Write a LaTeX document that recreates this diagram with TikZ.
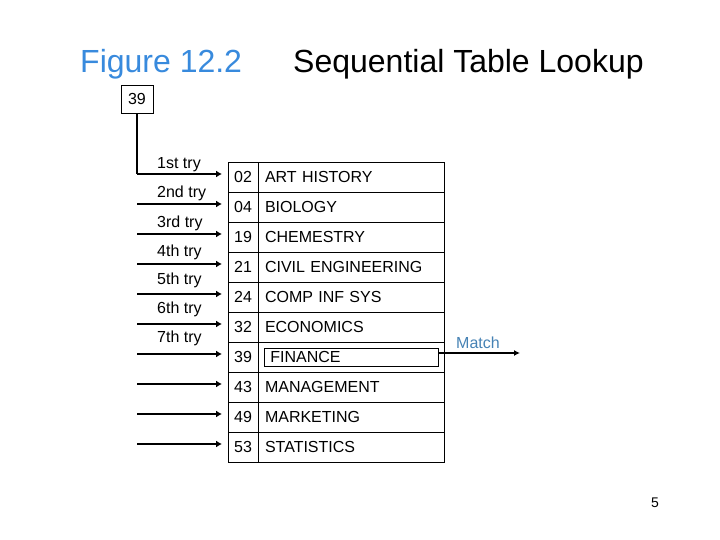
\documentclass[tikz,border=0pt]{standalone}
\usepackage{fontspec}
\setmainfont{Liberation Sans}
\usepackage{xcolor}
\usetikzlibrary{positioning, arrows.meta}
\definecolor{titleblue}{RGB}{56, 138, 221}
\definecolor{matchblue}{RGB}{70, 130, 180}

\begin{document}
\begin{tikzpicture}[
  x=1pt, y=-1pt,
  font=\fontsize{16}{19}\selectfont,
  keycell/.style={
    draw=black,
    line width=0.8pt,
    outer sep=0pt,
    minimum width=30pt,
    minimum height=30pt,
    inner sep=0pt,
  },
  namecell/.style={
    draw=black,
    line width=0.8pt,
    outer sep=0pt,
    minimum height=30pt,
    text width=172pt,
    inner xsep=7pt,
    inner ysep=0pt,
    align=left,
  },
  trylabel/.style={
    anchor=base west,
    inner sep=0pt,
  },
  tryarrow/.style={
    line width=2.5pt,
    -{Latex[length=6pt,width=7pt]},
    shorten >=6pt,
  }
]
  \useasboundingbox (0,0) rectangle (720,540);

  % === Title ===
  \node[anchor=base west, text=titleblue, font=\fontsize{32}{36}\selectfont, inner sep=0pt] (fig) at (80,73) {Figure 12.2};
  \node[anchor=base west, font=\fontsize{32}{36}\selectfont, inner sep=0pt] (title) at (293,73) {Sequential Table Lookup};

  % === Search key ===
  \node[draw=black, line width=0.8pt, minimum width=32pt, minimum height=28pt] (key) at (137,99) {39};

  % === Table (key | name) ===
  \node[keycell, anchor=north west] (k1) at (228,162) {02};
  \node[namecell, right=0pt of k1] (n1) {ART HISTORY};
  \node[keycell, below=0pt of k1] (k2) {04};
  \node[namecell, right=0pt of k2] (n2) {BIOLOGY};
  \node[keycell, below=0pt of k2] (k3) {19};
  \node[namecell, right=0pt of k3] (n3) {CHEMESTRY};
  \node[keycell, below=0pt of k3] (k4) {21};
  \node[namecell, right=0pt of k4] (n4) {CIVIL ENGINEERING};
  \node[keycell, below=0pt of k4] (k5) {24};
  \node[namecell, right=0pt of k5] (n5) {COMP INF SYS};
  \node[keycell, below=0pt of k5] (k6) {32};
  \node[namecell, right=0pt of k6] (n6) {ECONOMICS};
  \node[keycell, below=0pt of k6] (k7) {39};
  \node[namecell, right=0pt of k7] (n7) {};
  \node[keycell, below=0pt of k7] (k8) {43};
  \node[namecell, right=0pt of k8] (n8) {MANAGEMENT};
  \node[keycell, below=0pt of k8] (k9) {49};
  \node[namecell, right=0pt of k9] (n9) {MARKETING};
  \node[keycell, below=0pt of k9] (k10) {53};
  \node[namecell, right=0pt of k10] (n10) {STATISTICS};

  % matched entry, boxed
  \node[draw=black, line width=0.8pt, anchor=west, minimum height=18pt, text width=162pt, inner xsep=6pt, inner ysep=0pt, align=left] (fin-box) at (264,357) {FINANCE};

  % === Tries ===
  \foreach \i in {1,...,10} {
    \coordinate (t\i) at (137,144+30*\i);
    \draw[tryarrow] (t\i) -- (t\i -| k1.west);
  }
  \draw[line width=1.2pt] (key.south) -- (key.south |- t1);

  \node[trylabel] (l1) at (157,169) {1st try};
  \node[trylabel] (l2) at (157,198) {2nd try};
  \node[trylabel] (l3) at (157,227) {3rd try};
  \node[trylabel] (l4) at (157,256) {4th try};
  \node[trylabel] (l5) at (157,284) {5th try};
  \node[trylabel] (l6) at (157,313) {6th try};
  \node[trylabel] (l7) at (157,342) {7th try};

  % === Match ===
  \coordinate (match-end) at (520,353);
  \draw[line width=1.8pt, -{Latex[length=6pt,width=6pt]}] (fin-box.east |- match-end) -- (match-end);
  \node[text=matchblue] (match) at (478,343) {Match};

  % page number
  \node[font=\fontsize{14}{16}\selectfont] (page) at (655,503) {5};

\end{tikzpicture}
\end{document}
